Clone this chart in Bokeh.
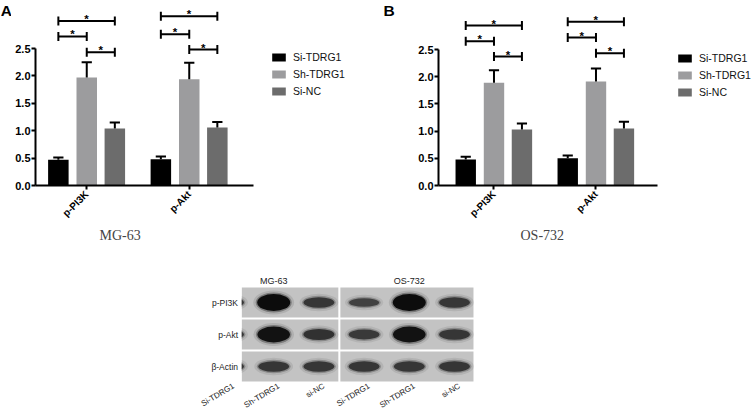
from math import pi
import numpy as np
from bokeh.plotting import figure
from bokeh.models import Range1d, FixedTicker, NumeralTickFormatter, Legend, LegendItem, Title
from bokeh.layouts import column, row
from bokeh.embed import file_html
from bokeh.resources import INLINE
from bokeh.core.properties import value

# ---------------- data ----------------
targets = ["p-PI3K", "p-Akt"]
groups = ["Si-TDRG1", "Sh-TDRG1", "Si-NC"]
colors = ["#000000", "#9c9c9e", "#6c6c6c"]

# MG-63 (panel A)
mg_si = [0.47, 0.48]
mg_si_err = [0.04, 0.05]
mg_sh = [1.97, 1.94]
mg_sh_err = [0.28, 0.30]
mg_nc = [1.04, 1.06]
mg_nc_err = [0.11, 0.10]
# significance bracket heights per target: [Si vs NC, Si vs Sh, Sh vs NC]
mg_sig_pi3k = [3.00, 2.72, 2.43]
mg_sig_akt = [3.09, 2.76, 2.48]

# OS-732 (panel B)
os_si = [0.48, 0.50]
os_si_err = [0.05, 0.05]
os_sh = [1.89, 1.91]
os_sh_err = [0.23, 0.24]
os_nc = [1.03, 1.05]
os_nc_err = [0.11, 0.12]
os_sig_pi3k = [2.94, 2.65, 2.37]
os_sig_akt = [3.01, 2.72, 2.43]

y_ticks = [0.0, 0.5, 1.0, 1.5, 2.0, 2.5]

# western blot (relative band densities, lanes: MG-63 x3, OS-732 x3)
blot_cells = ["MG-63", "OS-732"]
blot_lanes = ["Si-TDRG1", "Sh-TDRG1", "si-NC", "Si-TDRG1", "Sh-TDRG1", "si-NC"]
blot_rows = ["p-PI3K", "p-Akt", "β-Actin"]
pi3k_density = [0.45, 1.00, 0.45, 0.30, 1.00, 0.45]
akt_density = [0.45, 0.90, 0.50, 0.40, 0.90, 0.45]
actin_density = [0.45, 0.45, 0.45, 0.45, 0.45, 0.45]

# ---------------- layout constants ----------------
FIG_H = 250
FRAME_BOTTOM = 185
OFFSETS = [-0.277, 0.0, 0.274]
BAR_W = 0.2
CAP_W = 0.05
FONT = "Liberation Sans"


def letter_fig(letter, width, x):
    f = figure(width=width, height=FIG_H, output_backend="svg", toolbar_location=None,
               x_range=Range1d(0, width), y_range=Range1d(FIG_H, 0), min_border=0,
               x_axis_location=None, y_axis_location=None)
    f.outline_line_color = None
    f.grid.visible = False
    f.text([x], [1.5], text=[letter], text_align="left", text_baseline="top",
           text_font=value(FONT), text_font_style="bold", text_font_size="15.5px",
           text_color="black")
    return f


def chart(cell, means, errs, sigs, *, width, left, x0, x_axis_end,
          ppx, ppy, legend_x, legend_y, cell_offset):
    frame_w = width - left
    p = figure(width=width, height=FIG_H, output_backend="svg", toolbar_location=None,
               x_range=Range1d(x0, x0 + frame_w / ppx),
               y_range=Range1d(0, FRAME_BOTTOM / ppy),
               min_border_left=left, min_border_right=0, min_border_top=0,
               min_border_bottom=FIG_H - FRAME_BOTTOM)
    p.outline_line_color = None
    p.grid.visible = False
    p.background_fill_color = "white"

    xc = np.arange(1, len(targets) + 1, dtype=float)
    rends = []
    for k, col in enumerate(colors):
        xs = xc + OFFSETS[k]
        m = np.array(means[k])
        e = np.array(errs[k])
        r = p.vbar(x=xs, top=m, width=BAR_W, fill_color=col, line_color=None)
        rends.append(r)
        p.segment(xs, m, xs, m + e, line_color="black", line_width=2)
        p.segment(xs - CAP_W, m + e, xs + CAP_W, m + e, line_color="black", line_width=2)

    pairs = [(0, 2), (0, 1), (1, 2)]
    cap_h = 4.5 / ppy
    for i, hs in enumerate(sigs):
        for (a, b), h in zip(pairs, hs):
            xa = xc[i] + OFFSETS[a]
            xb = xc[i] + OFFSETS[b]
            p.segment([xa], [h], [xb], [h], line_color="black", line_width=2)
            p.segment([xa, xb], [h - cap_h, h - cap_h], [xa, xb], [h + cap_h, h + cap_h],
                      line_color="black", line_width=2)
            p.text([(xa + xb) / 2], [h], text=["*"], text_align="center",
                   text_baseline="alphabetic", y_offset=-2, text_font=value(FONT),
                   text_font_style="bold", text_font_size="11.5px", text_color="black")

    xa_ = p.xaxis[0]
    xa_.ticker = FixedTicker(ticks=list(xc))
    xa_.major_label_overrides = {int(t): n for t, n in zip(xc, targets)}
    xa_.major_label_orientation = pi / 4
    xa_.bounds = (x0, x_axis_end)
    ya_ = p.yaxis[0]
    ya_.ticker = FixedTicker(ticks=y_ticks)
    ya_.formatter = NumeralTickFormatter(format="0.0")
    ya_.bounds = (0, 2.5)
    for ax in (xa_, ya_):
        ax.axis_line_width = 2
        ax.axis_line_color = "black"
        ax.major_tick_line_width = 2
        ax.major_tick_line_color = "black"
        ax.major_tick_out = 4
        ax.major_tick_in = 0
        ax.minor_tick_out = 0
        ax.minor_tick_in = 0
        ax.major_label_text_font = FONT
        ax.major_label_text_font_style = "bold"
        ax.major_label_text_color = "black"
    ya_.major_label_text_font_size = "11px"
    ya_.major_label_standoff = 1
    xa_.major_label_text_font_size = "10px"
    xa_.major_label_standoff = 3

    legend = Legend(items=[LegendItem(label=g, renderers=[r]) for g, r in zip(groups, rends)],
                    location=(legend_x, legend_y), glyph_width=17, glyph_height=10,
                    label_standoff=6, spacing=5, padding=0, margin=0, label_height=12,
                    border_line_alpha=0, background_fill_alpha=0,
                    label_text_font=FONT, label_text_font_size="10.5px",
                    label_text_color="#111111")
    p.add_layout(legend)

    p.add_layout(Title(text=cell, align="left", offset=cell_offset,
                       text_font="Liberation Serif", text_font_size="14px",
                       text_font_style="normal", standoff=0, text_line_height=0.8), "below")
    return p


lA = letter_fig("A", 11, 0.2)
pA = chart("MG-63",
           [mg_si, mg_sh, mg_nc], [mg_si_err, mg_sh_err, mg_nc_err],
           [mg_sig_pi3k, mg_sig_akt],
           width=369, left=24, x0=0.5, x_axis_end=2.63, ppx=102.5, ppy=54.8,
           legend_x=235, legend_y=88, cell_offset=64)
lB = letter_fig("B", 18, 3)
pB = chart("OS-732",
           [os_si, os_sh, os_nc], [os_si_err, os_sh_err, os_nc_err],
           [os_sig_pi3k, os_sig_akt],
           width=355, left=40, x0=0.456, x_axis_end=2.60, ppx=102.0, ppy=54.4,
           legend_x=238, legend_y=87, cell_offset=82)

# ---------------- western blot ----------------
LANE_PX = 45.2
ROW_PX = 32.0
BLOT_W, BLOT_H = 753, 162
BLOT_TOP = 250
x_start = (0 - 228) / LANE_PX
y_top = -(BLOT_TOP - 302) / ROW_PX          # rows are drawn at y = -r
pW = figure(width=BLOT_W, height=BLOT_H, output_backend="svg", toolbar_location=None,
            x_range=Range1d(x_start, x_start + BLOT_W / LANE_PX),
            y_range=Range1d(y_top - BLOT_H / ROW_PX, y_top),
            min_border=0, x_axis_location=None, y_axis_location=None)
pW.outline_line_color = None
pW.grid.visible = False

panels = [(0.29, 2.43), (2.475, 5.42)]
row_h = 0.94
nrows = len(blot_rows)
for (l, r) in panels:
    pW.quad(left=[l] * nrows, right=[r] * nrows,
            top=[-i + row_h / 2 for i in range(nrows)],
            bottom=[-i - row_h / 2 for i in range(nrows)],
            fill_color="#c3c3c3", line_color=None)

lanes_x = np.arange(len(blot_lanes), dtype=float)
for ri, dens in enumerate([pi3k_density, akt_density, actin_density]):
    d = np.array(dens)
    h = 5 + 12 * d
    w = 29 + 4 * d
    lvl = (80 * (1 - d)).astype(int)
    cols = ["#%02x%02x%02x" % (v, v, v) for v in lvl]
    ys = np.full_like(d, -ri)
    pW.ellipse(lanes_x, ys, width=w + 8, height=h + 7, width_units="screen",
               height_units="screen", fill_color=cols, fill_alpha=0.10, line_color=None)
    pW.ellipse(lanes_x, ys, width=w + 3, height=h + 3, width_units="screen",
               height_units="screen", fill_color=cols, fill_alpha=0.30, line_color=None)
    pW.ellipse(lanes_x, ys, width=w, height=h, width_units="screen",
               height_units="screen", fill_color=cols, fill_alpha=0.9, line_color=None)

# white area left of the blot (first lane is cropped)
pW.quad(left=[x_start], right=[panels[0][0]], top=[y_top], bottom=[-nrows],
        fill_color="white", line_color=None)

pW.text([panels[0][0] - 0.08] * nrows, [-i for i in range(nrows)], text=blot_rows,
        text_align="right", text_baseline="middle", text_font=value(FONT),
        text_font_size="8.5px", text_color="#222222")
pW.text([1.0, 4.0], [0.66] * 2, text=blot_cells, text_align="center",
        text_baseline="middle", text_font=value(FONT), text_font_size="9px",
        text_color="#222222")
pW.text(lanes_x + 0.06, [-(nrows - 1) - row_h / 2] * len(blot_lanes), text=blot_lanes,
        angle=0.54, text_align="right", text_baseline="top", text_font=value(FONT),
        text_font_size="8px", text_color="#222222")

layout = column(row(lA, pA, lB, pB), pW)
open("out.html", "w").write(file_html(layout, INLINE))
